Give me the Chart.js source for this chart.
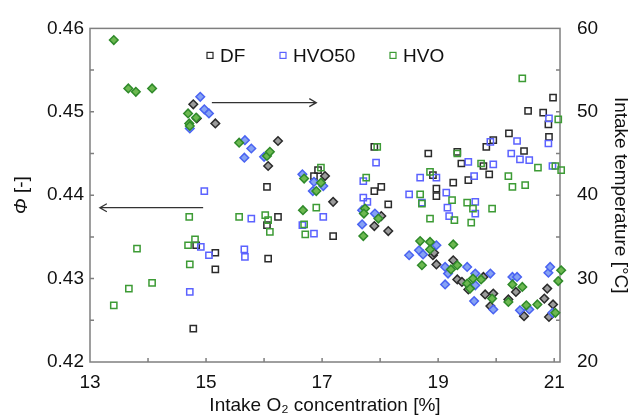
<!DOCTYPE html>
<html lang="en">
<head>
<meta charset="UTF-8" />
<title>Equivalence ratio and intake temperature vs intake O2</title>
<script src="https://cdn.jsdelivr.net/npm/chart.js"></script>
<style>
  html, body { margin: 0; padding: 0; background: #ffffff; }
  canvas { display: block; }
</style>
</head>
<body>
<canvas id="phiChart" width="634" height="420"></canvas>
<script>
  // intake O2 [%] / equivalence ratio (diamonds, left axis)
  const dfPhiO2 = [14.78, 14.84, 15.16, 16.07, 16.24, 17.05, 17.19, 18.02, 17.90, 18.14, 18.91, 18.97, 18.93, 19.26, 19.33, 19.41, 19.52, 19.78, 19.81, 19.90, 19.95, 20.21, 20.34, 20.48, 20.83, 20.88, 20.98, 20.91];
  const dfPhi = [0.4509, 0.4492, 0.4486, 0.4435, 0.4465, 0.4423, 0.4392, 0.4375, 0.4363, 0.4357, 0.4328, 0.4317, 0.4331, 0.4322, 0.4299, 0.4296, 0.4287, 0.4302, 0.4281, 0.4267, 0.4282, 0.4275, 0.4284, 0.4255, 0.4276, 0.4288, 0.4269, 0.4254];

  const hvo50PhiO2 = [14.90, 14.97, 15.05, 14.72, 15.67, 15.78, 15.66, 16.00, 16.66, 16.86, 17.02, 16.84, 17.69, 17.91, 17.69, 18.50, 18.67, 18.74, 18.97, 19.12, 19.17, 19.12, 19.50, 19.64, 19.64, 19.90, 19.62, 19.95, 20.28, 20.36, 20.41, 20.57, 20.90, 20.93, 20.97];
  const hvo50Phi = [0.4518, 0.4503, 0.4498, 0.4480, 0.4466, 0.4456, 0.4445, 0.4446, 0.4425, 0.4416, 0.4411, 0.4405, 0.4382, 0.4378, 0.4365, 0.4328, 0.4334, 0.4329, 0.4340, 0.4314, 0.4306, 0.4293, 0.4314, 0.4306, 0.4292, 0.4306, 0.4273, 0.4263, 0.4302, 0.4302, 0.4262, 0.4263, 0.4307, 0.4314, 0.4259];

  const hvoPhiO2 = [13.41, 13.66, 13.79, 14.07, 14.69, 14.83, 14.71, 14.72, 15.57, 16.05, 16.10, 16.69, 16.98, 16.90, 16.67, 17.74, 17.72, 17.97, 17.71, 18.69, 18.86, 18.86, 18.72, 19.26, 19.33, 19.22, 19.60, 19.50, 19.55, 19.74, 19.93, 20.21, 20.28, 20.45, 20.52, 20.71, 21.12, 21.07, 21.02];
  const hvoPhi = [0.4586, 0.4528, 0.4524, 0.4528, 0.4498, 0.4493, 0.4486, 0.4483, 0.4463, 0.4447, 0.4452, 0.4420, 0.4415, 0.4405, 0.4382, 0.4384, 0.4378, 0.4372, 0.4351, 0.4345, 0.4344, 0.4335, 0.4316, 0.4341, 0.4316, 0.4311, 0.4300, 0.4294, 0.4288, 0.4299, 0.4276, 0.4272, 0.4293, 0.4290, 0.4268, 0.4269, 0.4310, 0.4297, 0.4259];

  // intake O2 [%] / intake temperature [°C] (open squares, right axis)
  const dfTempO2 = [14.78, 15.16, 15.16, 14.83, 16.05, 16.05, 16.07, 16.24, 16.86, 16.93, 17.19, 17.90, 17.90, 18.02, 18.14, 18.83, 18.91, 18.97, 18.97, 19.26, 19.33, 19.40, 19.52, 19.78, 19.83, 19.88, 19.95, 20.22, 20.48, 20.55, 20.81, 20.90, 20.91, 20.98];
  const dfTemp = [24.0, 33.1, 31.1, 34.0, 41.0, 36.4, 32.4, 37.4, 42.3, 43.0, 35.1, 45.8, 40.5, 41.0, 38.9, 45.0, 42.4, 40.8, 39.9, 41.5, 45.2, 43.8, 41.8, 43.5, 45.8, 42.5, 46.6, 47.4, 45.3, 50.1, 49.9, 48.5, 47.0, 51.7];

  const hvo50TempO2 = [14.97, 15.78, 15.66, 15.67, 14.91, 15.05, 14.72, 17.02, 16.66, 16.86, 17.71, 17.93, 17.71, 17.78, 18.50, 18.69, 18.72, 18.97, 19.14, 19.16, 19.19, 19.52, 19.62, 19.64, 19.64, 19.90, 19.95, 20.26, 20.36, 20.41, 20.57, 20.90, 20.91, 20.97];
  const hvo50Temp = [40.5, 37.2, 33.5, 32.6, 33.8, 32.8, 28.4, 37.4, 36.4, 35.4, 41.7, 43.9, 39.7, 39.2, 40.1, 42.1, 39.1, 42.1, 40.3, 38.5, 37.5, 44.0, 42.3, 39.2, 37.8, 46.4, 43.7, 45.0, 46.5, 44.3, 44.2, 46.2, 49.2, 43.5];

  const hvoTempO2 = [13.41, 13.67, 13.81, 14.07, 14.71, 14.81, 14.69, 14.72, 15.57, 16.02, 16.07, 16.10, 16.69, 16.71, 16.90, 16.98, 17.76, 17.95, 18.69, 18.72, 18.86, 18.86, 19.24, 19.28, 19.33, 19.50, 19.60, 19.57, 19.74, 19.93, 20.21, 20.28, 20.50, 20.45, 20.72, 21.02, 21.07, 21.12];
  const hvoTemp = [26.8, 28.8, 33.6, 29.5, 37.4, 34.7, 34.0, 31.7, 37.4, 37.6, 37.0, 35.6, 36.5, 35.3, 38.5, 43.3, 42.1, 45.8, 40.1, 39.0, 42.8, 37.2, 39.4, 37.0, 45.0, 39.1, 38.4, 36.7, 43.8, 38.4, 42.3, 41.0, 41.2, 54.0, 43.3, 43.5, 49.1, 43.0];

  const fuelLabels = ["DF", "HVO50", "HVO"];
  const o2Ticks = [13, 15, 17, 19, 21];
  const o2MinorTicks = [14, 15, 16, 17, 18, 19, 20, 21];
  const phiMinorTicks = [0.425, 0.43, 0.435, 0.44, 0.445, 0.45, 0.455];
  const tempMinorTicks = [25, 30, 35, 40, 45, 50, 55];

  // arrows pointing to the axis each group belongs to: [x1, y1, x2, y2] in O2 / phi units
  const axisArrows = [
    [15.1, 0.4511, 16.9, 0.4511],
    [14.95, 0.4385, 13.17, 0.4385]
  ];

  const FONT = "'Liberation Sans', Arial, sans-serif";
  const squareColors = ["#2b2b2b", "#5b62ff", "#3d9b35"];
  const diamondEdge = ["#2b2b2b", "#4a63f2", "#2f8a2a"];
  const diamondFill = ["#9b9b9b", "#86a2f3", "#6cb850"];

  const pairs = (xs, ys) => xs.map((v, i) => ({ x: v, y: ys[i] }));

  function squareSet(i, xs, ys) {
    return {
      label: fuelLabels[i],
      data: pairs(xs, ys),
      yAxisID: "temp",
      pointStyle: "rect",
      pointRadius: 4.4,
      borderWidth: 1.5,
      borderColor: squareColors[i],
      backgroundColor: "rgba(255,255,255,0)",
      clip: false,
      order: 6 - i
    };
  }

  function diamondSet(i, xs, ys) {
    return {
      label: fuelLabels[i] + " phi",
      data: pairs(xs, ys),
      yAxisID: "phi",
      pointStyle: "rectRot",
      pointRadius: 4.3,
      borderWidth: 1.5,
      borderColor: diamondEdge[i],
      backgroundColor: diamondFill[i],
      clip: false,
      order: 3 - i
    };
  }

  const frameAndTicks = {
    id: "frameAndTicks",
    beforeDatasetsDraw(chart) {
      const { ctx, chartArea: a, scales } = chart;
      ctx.save();
      ctx.strokeStyle = "#7f7f7f";
      ctx.lineWidth = 1.5;
      ctx.strokeRect(a.left, a.top, a.right - a.left, a.bottom - a.top);
      ctx.beginPath();
      o2MinorTicks.forEach((v) => {
        const px = scales.x.getPixelForValue(v);
        ctx.moveTo(px, a.bottom);
        ctx.lineTo(px, a.bottom - 4);
      });
      phiMinorTicks.forEach((v) => {
        const py = scales.phi.getPixelForValue(v);
        ctx.moveTo(a.left, py);
        ctx.lineTo(a.left + 4, py);
      });
      tempMinorTicks.forEach((v) => {
        const py = scales.temp.getPixelForValue(v);
        ctx.moveTo(a.right, py);
        ctx.lineTo(a.right - 4, py);
      });
      ctx.stroke();
      ctx.restore();
    },
    afterDraw(chart) {
      const { ctx, chartArea: a, scales } = chart;
      ctx.save();

      // arrows
      ctx.strokeStyle = "#333333";
      ctx.lineWidth = 1.3;
      axisArrows.forEach(([x1, y1, x2, y2]) => {
        const px1 = scales.x.getPixelForValue(x1);
        const px2 = scales.x.getPixelForValue(x2);
        const py = scales.phi.getPixelForValue(y1);
        const dir = px2 > px1 ? 1 : -1;
        ctx.beginPath();
        ctx.moveTo(px1, py);
        ctx.lineTo(px2, py);
        ctx.moveTo(px2 - dir * 7, py - 4);
        ctx.lineTo(px2, py);
        ctx.lineTo(px2 - dir * 7, py + 4);
        ctx.stroke();
      });

      // legend (square markers only)
      const legendX = [210, 283, 393];
      const legendY = a.top + 27;
      ctx.font = "19px " + FONT;
      ctx.textBaseline = "middle";
      ctx.textAlign = "left";
      ctx.lineWidth = 1.2;
      fuelLabels.forEach((lab, i) => {
        ctx.strokeStyle = squareColors[i];
        ctx.strokeRect(legendX[i] - 3, legendY - 3, 6, 6);
        ctx.fillStyle = "#111111";
        ctx.fillText(lab, legendX[i] + 10, legendY + 1);
      });

      // left axis title: italic phi followed by [-]
      ctx.translate(22, (a.top + a.bottom) / 2);
      ctx.rotate(-Math.PI / 2);
      ctx.fillStyle = "#111111";
      ctx.font = "italic 19px " + FONT;
      const w1 = ctx.measureText("Φ").width;
      ctx.font = "19px " + FONT;
      const w2 = ctx.measureText(" [-]").width;
      const start = -(w1 + w2) / 2;
      ctx.font = "italic 19px " + FONT;
      ctx.fillText("Φ", start, 0);
      ctx.font = "19px " + FONT;
      ctx.fillText(" [-]", start + w1, 0);
      ctx.restore();
    }
  };

  const tickFont = { family: FONT, size: 19 };

  new Chart(document.getElementById("phiChart"), {
    type: "scatter",
    data: {
      datasets: [
        squareSet(0, dfTempO2, dfTemp),
        squareSet(1, hvo50TempO2, hvo50Temp),
        squareSet(2, hvoTempO2, hvoTemp),
        diamondSet(0, dfPhiO2, dfPhi),
        diamondSet(1, hvo50PhiO2, hvo50Phi),
        diamondSet(2, hvoPhiO2, hvoPhi)
      ]
    },
    options: {
      responsive: false,
      animation: false,
      events: [],
      layout: { padding: { top: 21 } },
      plugins: { legend: { display: false }, tooltip: { enabled: false } },
      scales: {
        x: {
          type: "linear",
          min: 13,
          max: 21.1,
          grid: { display: false, drawTicks: false },
          border: { display: false },
          afterBuildTicks: (s) => { s.ticks = o2Ticks.map((v) => ({ value: v })); },
          afterFit: (s) => { s.height = 58; },
          ticks: { font: tickFont, color: "#111111", padding: 9, maxRotation: 0 },
          title: {
            display: true,
            text: "Intake O₂ concentration [%]",
            font: tickFont,
            color: "#111111",
            padding: { top: 2, bottom: 3 }
          }
        },
        phi: {
          type: "linear",
          position: "left",
          min: 0.42,
          max: 0.46,
          grid: { display: false, drawTicks: false },
          border: { display: false },
          afterFit: (s) => { s.width = 90; },
          ticks: {
            stepSize: 0.01,
            font: tickFont,
            color: "#111111",
            padding: 6,
            callback: (v) => v.toFixed(2)
          }
        },
        temp: {
          type: "linear",
          position: "right",
          min: 20,
          max: 60,
          grid: { display: false, drawTicks: false },
          border: { display: false },
          afterFit: (s) => { s.width = 74; },
          ticks: { stepSize: 10, font: tickFont, color: "#111111", padding: 17 },
          title: {
            display: true,
            text: "Intake temperature [°C]",
            font: tickFont,
            color: "#111111",
            padding: { top: 2, bottom: 2 }
          }
        }
      }
    },
    plugins: [frameAndTicks]
  });
</script>
</body>
</html>
